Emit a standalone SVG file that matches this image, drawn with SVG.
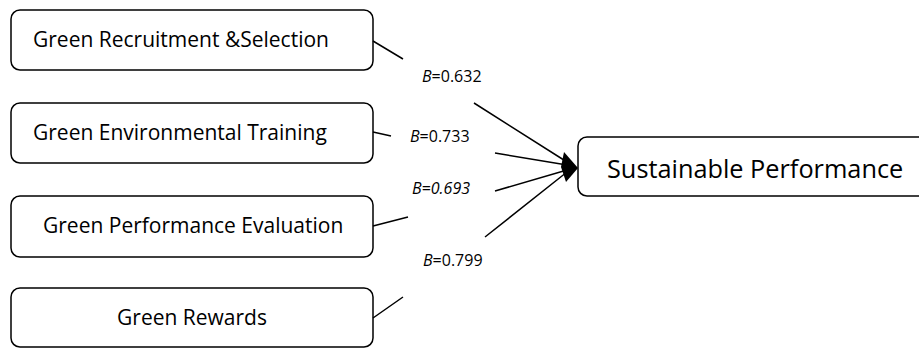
<svg xmlns="http://www.w3.org/2000/svg" width="919" height="348" viewBox="0 0 919 348">
<style>
.box{fill:#fff;stroke:#000;stroke-width:1.5}
.t{font-family:"Open Sans","Noto Sans","Liberation Sans",sans-serif;font-size:21px;fill:#000}
.big{font-size:25.3px}
.lbl{font-family:"Open Sans","Noto Sans","Liberation Sans",sans-serif;font-size:16px;fill:#000}
.c{stroke:#000;stroke-width:1.5;fill:none}
</style>
<rect width="919" height="348" fill="#fff"/>
<g id="n1"><rect class="box" x="11" y="10" width="362" height="60" rx="9"/><text class="t" x="33" y="47">Green Recruitment &amp;Selection</text></g>
<g id="n2"><rect class="box" x="11" y="103" width="362" height="60" rx="9"/><text class="t" x="33" y="140">Green Environmental Training</text></g>
<g id="n3"><rect class="box" x="11" y="196" width="362" height="61" rx="9"/><text class="t" x="43" y="233">Green Performance Evaluation</text></g>
<g id="n4"><rect class="box" x="11" y="288" width="362" height="59" rx="9"/><text class="t" x="192" y="325" text-anchor="middle">Green Rewards</text></g>
<g id="n5"><rect class="box" x="578" y="137" width="350" height="59" rx="9"/><text class="t big" x="607" y="178">Sustainable Performance</text></g>
<g id="connectors">
<path class="c" d="M373 41 L403 59 M474 103 L567 162"/>
<path class="c" d="M373 132 L391 136 M495 153 L567 165"/>
<path class="c" d="M373 226 L408 217 M495 191 L567 170"/>
<path class="c" d="M373 318 L403 297 M485 237 L567 172"/>
<polygon points="564,152 578,168 566,182 561,167" fill="#000"/>
<text class="lbl" x="422" y="82"><tspan font-style="italic">B</tspan>=0.632</text>
<text class="lbl" x="410" y="142"><tspan font-style="italic">B</tspan>=0.733</text>
<text class="lbl" x="412" y="194" font-style="italic">B=0.693</text>
<text class="lbl" x="423" y="266"><tspan font-style="italic">B</tspan>=0.799</text>
</g>
</svg>
